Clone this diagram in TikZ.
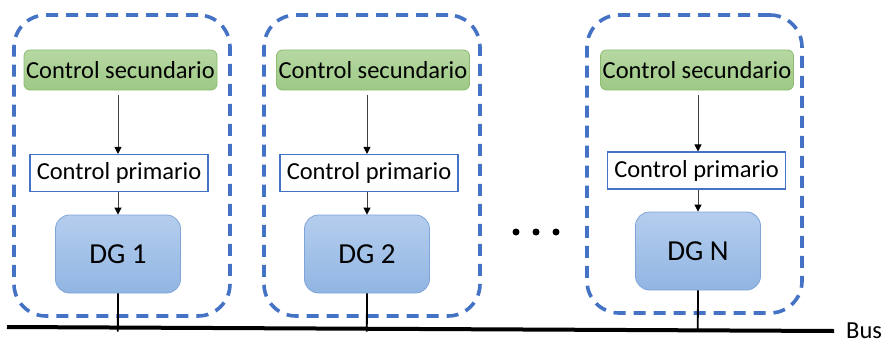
\documentclass[tikz,border=0pt]{standalone}
\usepackage{fontspec}
\setmainfont{Carlito}
\usetikzlibrary{arrows.meta,calc}

\definecolor{frameblue}{HTML}{4472C4}
\definecolor{greentop}{HTML}{B7D8A3}
\definecolor{greenbot}{HTML}{9DC985}
\definecolor{greenline}{HTML}{8DBB70}
\definecolor{dgtop}{HTML}{B5CEEE}
\definecolor{dgbot}{HTML}{91B5E2}
\definecolor{dgline}{HTML}{7FA5D8}

\tikzset{
  module/.style={draw=frameblue, line width=3.6pt, dash pattern=on 12pt off 8pt,
    rounded corners=32pt, minimum width=#1, minimum height=301pt, inner sep=0pt},
  secbox/.style={draw=greenline, line width=0.8pt, top color=greentop, bottom color=greenbot,
    rounded corners=6pt, minimum width=193pt, minimum height=40pt, inner sep=0pt,
    font=\fontsize{24.5}{28}\selectfont},
  primbox/.style={draw=frameblue, line width=1.1pt, fill=white,
    minimum width=178pt, minimum height=37pt, inner sep=0pt,
    font=\fontsize{24.5}{28}\selectfont},
  dgbox/.style={draw=dgline, line width=0.8pt, top color=dgtop, bottom color=dgbot,
    rounded corners=14pt, minimum width=125pt, minimum height=78pt, inner sep=0pt,
    font=\fontsize{29}{33}\selectfont},
  flow/.style={draw=black!75, line width=0.8pt, -{Triangle[length=7pt,width=7pt,color=black]}},
  tie/.style={draw=black, line width=1.8pt},
  busline/.style={draw=black, line width=4pt},
  dot/.style={circle, fill=black, inner sep=0pt, minimum size=7pt}
}

\begin{document}
\begin{tikzpicture}[x=1pt,y=-1pt]
  \useasboundingbox (0,0) rectangle (890,345);

  % bus
  \coordinate (busL) at (7,327);
  \coordinate (busR) at (834,331);
  \draw[busline] (busL) -- (busR);
  \node[anchor=west, inner sep=0pt, font=\fontsize{24.5}{28}\selectfont] (bus) at (846,331) {Bus};

  % unit 1
  \node[module=216pt] (m1) at (122,165.5) {};
  \node[secbox] (s1) at (120.5,70) {Control secundario};
  \node[primbox] (p1) at (119,173) {Control primario};
  \node[dgbox] (g1) at (118,254) {DG 1\hspace{12pt}};
  \draw[flow] ([yshift=-5pt]s1.south -| g1.north) -- (p1.north -| g1.north);
  \draw[flow] (p1.south -| g1.north) -- (g1.north);
  \draw[tie] (g1.south) -- ([yshift=-4pt]$(busL)!(g1.south)!(busR)$);

  % unit 2
  \node[module=216pt] (m2) at (372,165.5) {};
  \node[secbox] (s2) at (373,70) {Control secundario};
  \node[primbox] (p2) at (369,173) {Control primario};
  \node[dgbox] (g2) at (367,254) {DG 2\hspace{12pt}};
  \draw[flow] ([yshift=-5pt]s2.south -| g2.north) -- (p2.north -| g2.north);
  \draw[flow] (p2.south -| g2.north) -- (g2.north);
  \draw[tie] (g2.south) -- ([yshift=-3pt]$(busL)!(g2.south)!(busR)$);

  % ellipsis between units
  \node[dot] (d1) at (516,232) {};
  \node[dot] (d2) at (536,232) {};
  \node[dot] (d3) at (556,232) {};

  % unit N
  \node[module=215pt, minimum height=298pt] (mN) at (694.5,164) {};
  \node[secbox] (sN) at (697,70) {Control secundario};
  \node[primbox] (pN) at (696.5,170.5) {Control primario};
  \node[dgbox] (gN) at (698,251) {DG N};
  \draw[flow] ([yshift=-5pt]sN.south -| gN.north) -- (pN.north -| gN.north);
  \draw[flow] (pN.south -| gN.north) -- (gN.north);
  \draw[tie] (gN.south) -- ($(busL)!(gN.south)!(busR)$);
\end{tikzpicture}
\end{document}
